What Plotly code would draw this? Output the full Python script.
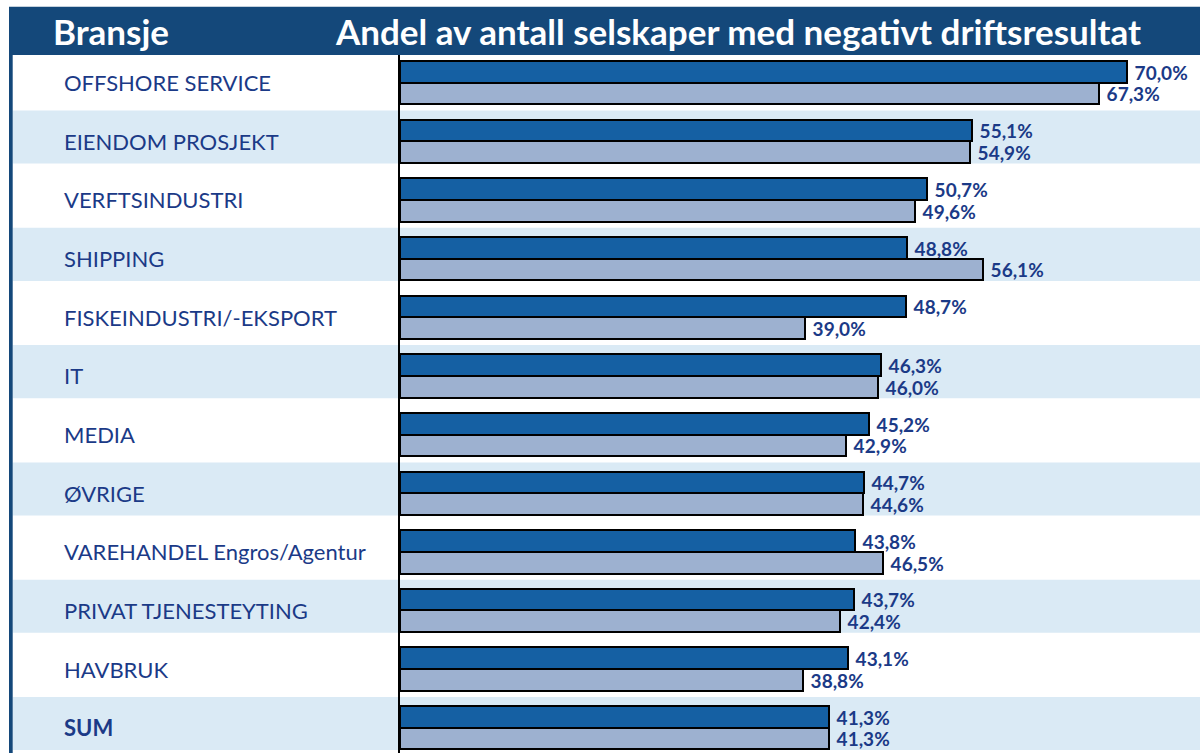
import plotly.graph_objects as go

# Bransjer og andel (%) med negativt driftsresultat
BRANSJER = [
    "OFFSHORE SERVICE", "EIENDOM PROSJEKT", "VERFTSINDUSTRI", "SHIPPING",
    "FISKEINDUSTRI/-EKSPORT", "IT", "MEDIA", "ØVRIGE",
    "VAREHANDEL Engros/Agentur", "PRIVAT TJENESTEYTING", "HAVBRUK", "SUM",
]
SISTE_AAR = [70.0, 55.1, 50.7, 48.8, 48.7, 46.3, 45.2, 44.7, 43.8, 43.7, 43.1, 41.3]
FORRIGE_AAR = [67.3, 54.9, 49.6, 56.1, 39.0, 46.0, 42.9, 44.6, 46.5, 42.4, 38.8, 41.3]

NAVY = "#14487a"
DARK = "#1560a3"
LIGHT = "#9db1d0"
BAND = "#daeaf5"
TXT = "#1b3a87"
FONT = "Lato"

W, H = 1200, 753
L, T = 400, 55
PW, PH = W - L, H - T


def px_x(px):
    return (px - L) / PW


def px_y(py):
    return (H - py) / PH


idx = list(range(len(BRANSJER)))

fig = go.Figure()
for vals, color, off in [(SISTE_AAR, DARK, -0.37), (FORRIGE_AAR, LIGHT, 0.0)]:
    fig.add_trace(go.Bar(
        x=vals, y=idx, orientation="h",
        width=0.37, offset=off,
        marker=dict(color=color, line=dict(color="black", width=2)),
        texttemplate="\u00a0%{x:.1f}%", textposition="outside",
        constraintext="none", cliponaxis=False,
        textfont=dict(family=FONT, size=19, color=TXT, weight="bold"),
        hoverinfo="skip",
    ))

shapes = []
# Lyseblå bånd annenhver rad
for i in idx:
    if i % 2 == 1:
        shapes.append(dict(type="rect", xref="paper", yref="y", layer="below",
                           x0=px_x(12.7), x1=1, y0=i - 0.525, y1=i + 0.38,
                           fillcolor=BAND, line_width=0))
# Topptekst-felt og venstre kant
shapes.append(dict(type="rect", xref="paper", yref="paper", x0=px_x(9), x1=1,
                   y0=1, y1=px_y(6.7), fillcolor=NAVY, line_width=0))
shapes.append(dict(type="rect", xref="paper", yref="paper", x0=px_x(9), x1=px_x(12.7),
                   y0=0, y1=1, fillcolor=NAVY, line_width=0))

annotations = []
for i, name in zip(idx, BRANSJER):
    annotations.append(dict(
        xref="paper", yref="y", x=px_x(62), y=i, xanchor="left", yanchor="middle",
        text=f"<b>{name}</b>" if name == "SUM" else name, showarrow=False,
        font=dict(family=FONT, size=22, color=TXT),
    ))
annotations.append(dict(xref="paper", yref="paper", x=px_x(111), y=px_y(31),
                        xanchor="center", yanchor="middle", text="<b>Bransje</b>",
                        showarrow=False, font=dict(family=FONT, size=35, color="white")))
annotations.append(dict(xref="paper", yref="paper", x=px_x(738), y=px_y(31),
                        xanchor="center", yanchor="middle",
                        text="<b>Andel av antall selskaper med negativt driftsresultat</b>",
                        showarrow=False, font=dict(family=FONT, size=35, color="white")))

fig.update_layout(
    width=W, height=H,
    margin=dict(l=L, r=0, t=T, b=0),
    paper_bgcolor="white", plot_bgcolor="rgba(0,0,0,0)",
    showlegend=False, bargap=0, separators=",.",
    shapes=shapes, annotations=annotations,
)
fig.update_xaxes(range=[0, 77.03], showgrid=False, zeroline=False,
                 showticklabels=False, ticks="")
fig.update_yaxes(range=[11.43, -0.472], showgrid=False, zeroline=False,
                 showticklabels=False, ticks="", showline=True,
                 linecolor="black", linewidth=2)

fig.write_html("out.html", config={"displayModeBar": False},
               post_script="document.body.style.margin='0';")
